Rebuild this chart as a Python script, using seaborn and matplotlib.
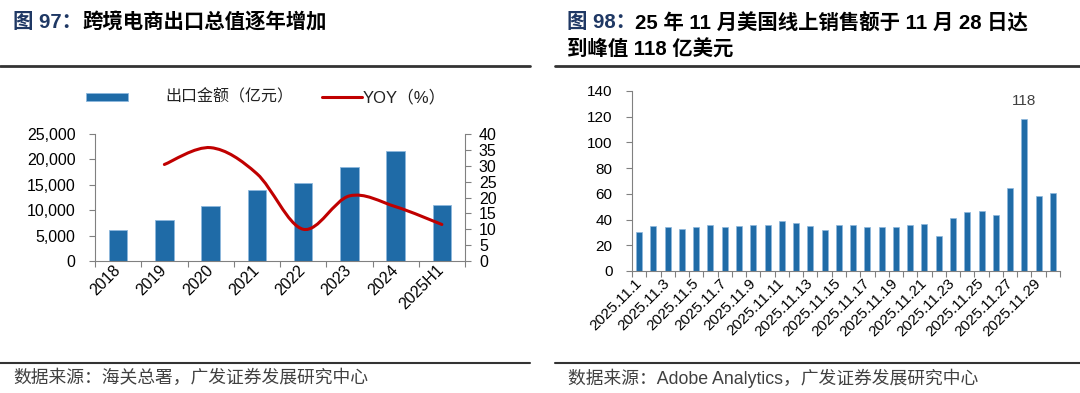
import pandas as pd
import seaborn as sns
import matplotlib.pyplot as plt
from matplotlib.path import Path
from matplotlib.patches import PathPatch, Rectangle
from matplotlib.lines import Line2D
from matplotlib.ticker import FuncFormatter, MultipleLocator, FixedLocator

# 图97 数据
years = ["2018", "2019", "2020", "2021", "2022", "2023", "2024", "2025H1"]
export_value = [6100, 8000, 10850, 13950, 15300, 18450, 21600, 10950]
yoy_years = ["2019", "2020", "2021", "2022", "2023", "2024", "2025H1"]
yoy = [30.4, 35.7, 27.5, 10.0, 20.5, 17.1, 11.5]

# 图98 数据
days = ["2025.11.%d" % d for d in range(1, 31)]
sales = [30.1, 35.3, 34.2, 32.9, 34.5, 35.5, 34.5, 35.0, 35.5, 36.0,
         38.9, 37.3, 35.3, 31.9, 35.5, 35.5, 34.5, 34.5, 34.0, 35.5,
         36.3, 27.5, 41.2, 46.1, 46.9, 43.6, 64.6, 118.0, 58.6, 60.7]
peak_label = "118"

BLUE = "#1F6BA7"
EDGE = "#8DB8DD"
RED = "#C00000"
NAVY = "#1F3864"
AXC = "#808080"

sns.set_style("ticks")
plt.rcParams["font.family"] = ["Liberation Sans", "Noto Sans CJK SC"]
plt.rcParams["axes.edgecolor"] = AXC
plt.rcParams["xtick.color"] = AXC
plt.rcParams["ytick.color"] = AXC
plt.rcParams["xtick.labelcolor"] = "black"
plt.rcParams["ytick.labelcolor"] = "black"

W, H = 1080, 393
fig = plt.figure(figsize=(W / 100, H / 100), dpi=100)


def fx(px):
    return px / W


def fy(py):
    return 1 - py / H


def smooth_line(ax, xs, ys, color, lw, t=1 / 6):
    # bezier curve through the points, like an excel smoothed line
    pts = list(zip(xs, ys))
    verts = [pts[0]]
    codes = [Path.MOVETO]
    n = len(pts)
    for i in range(n - 1):
        p0 = pts[max(i - 1, 0)]
        p1 = pts[i]
        p2 = pts[i + 1]
        p3 = pts[min(i + 2, n - 1)]
        c1 = (p1[0] + (p2[0] - p0[0]) * t, p1[1] + (p2[1] - p0[1]) * t)
        c2 = (p2[0] - (p3[0] - p1[0]) * t, p2[1] - (p3[1] - p1[1]) * t)
        verts += [c1, c2, p2]
        codes += [Path.CURVE4] * 3
    ax.add_patch(PathPatch(Path(verts, codes), facecolor="none",
                           edgecolor=color, lw=lw, capstyle="round", zorder=5))


# ---------- 左图 ----------
ax = fig.add_axes([fx(95), fy(261), fx(465 - 95), (261 - 134) / H])
df1 = pd.DataFrame({"year": years, "value": export_value})
sns.barplot(data=df1, x="year", y="value", ax=ax, color=BLUE, saturation=1,
            width=0.4, edgecolor=EDGE, linewidth=0.6)
ax.set_xlim(-0.5, len(years) - 0.5)
ax.set_ylim(0, 25000)
ax.yaxis.set_major_locator(MultipleLocator(5000))
ax.yaxis.set_major_formatter(FuncFormatter(lambda v, p: f"{v:,.0f}"))
ax.set_xlabel("")
ax.set_ylabel("")
ax.xaxis.set_major_locator(FixedLocator([i - 0.5 for i in range(len(years) + 1)]))
ax.xaxis.set_major_formatter(plt.NullFormatter())
ax.set_xticks(range(len(years)), minor=True)
ax.set_xticklabels(years, minor=True, rotation=45, ha="right", va="center",
                   rotation_mode="anchor", fontsize=11.5)
ax.tick_params(axis="x", which="minor", length=0, pad=5)
ax.tick_params(axis="x", which="major", length=4, direction="out")
ax.tick_params(axis="y", labelsize=11.5, length=4, pad=10)
for s in ["top", "right"]:
    ax.spines[s].set_visible(False)

ax2 = ax.twinx()
ax2.set_ylim(0, 40)
ax2.yaxis.set_major_locator(MultipleLocator(5))
ax2.tick_params(axis="y", labelsize=11.5, length=4, pad=6)
ax2.spines["top"].set_visible(False)
ax2.spines["left"].set_visible(False)
ax2.spines["bottom"].set_visible(False)
yoy_x = [years.index(y) for y in yoy_years]
smooth_line(ax2, yoy_x, yoy, RED, 2.2)

# legend
ly = fy(97)
fig.add_artist(Rectangle((fx(86), ly - 4 / H), fx(42), 8 / H, transform=fig.transFigure,
                         facecolor=BLUE, edgecolor=EDGE, lw=0.6))
fig.text(fx(165), ly, "出口金额（亿元）", fontsize=11.5, va="center", color="#222222")
fig.add_artist(Line2D([fx(322), fx(362)], [ly, ly], transform=fig.transFigure,
                      color=RED, lw=2.2))
fig.text(fx(363), ly, "YOY（%）", fontsize=12, va="center", color="#222222")

# ---------- 右图 ----------
bx = fig.add_axes([fx(632), fy(271), fx(1060 - 632), (271 - 91) / H])
df2 = pd.DataFrame({"day": days, "sales": sales})
sns.barplot(data=df2, x="day", y="sales", ax=bx, color=BLUE, saturation=1,
            width=0.42, edgecolor=EDGE, linewidth=0.5)
bx.set_xlim(-0.5, len(days) - 0.5)
bx.set_ylim(0, 140)
bx.yaxis.set_major_locator(MultipleLocator(20))
bx.set_xlabel("")
bx.set_ylabel("")
bx.xaxis.set_major_locator(FixedLocator([i - 0.5 for i in range(len(days) + 1)]))
bx.xaxis.set_major_formatter(plt.NullFormatter())
lab_idx = list(range(0, len(days), 2))
bx.set_xticks(lab_idx, minor=True)
bx.set_xticklabels([days[i] for i in lab_idx], minor=True, rotation=45, ha="right",
                   va="center", rotation_mode="anchor", fontsize=11)
bx.tick_params(axis="x", which="minor", length=0, pad=7)
bx.tick_params(axis="x", which="major", length=4, direction="out")
bx.tick_params(axis="y", labelsize=11, length=4, pad=10)
for s in ["top", "right"]:
    bx.spines[s].set_visible(False)
pk = sales.index(max(sales))
bx.annotate(peak_label, (pk, sales[pk]), xytext=(0, 8), textcoords="offset points",
            ha="center", va="bottom", fontsize=11, color="#404040")

# ---------- 标题 ----------
tkw = dict(fontsize=14.7, weight="bold", va="center")
fig.text(fx(13), fy(22), "图 97：", color=NAVY, **tkw)
fig.text(fx(82), fy(22), "跨境电商出口总值逐年增加", color="black", **tkw)
fig.text(fx(567), fy(22), "图 98：", color=NAVY, **tkw)
fig.text(fx(635), fy(22), "25 年 11 月美国线上销售额于 11 月 28 日达", color="black", **tkw)
fig.text(fx(567), fy(50), "到峰值 118 亿美元", color="black", **tkw)

# 分隔线
for x0, x1 in [(0, 530), (555, 1080)]:
    fig.add_artist(Line2D([fx(x0), fx(x1)], [fy(66), fy(66)], transform=fig.transFigure,
                          color="#333333", lw=2))
    fig.add_artist(Line2D([fx(x0), fx(x1)], [fy(363), fy(363)], transform=fig.transFigure,
                          color="#333333", lw=1.5))

# 数据来源
fig.text(fx(13), fy(378), "数据来源：海关总署，广发证券发展研究中心", fontsize=12.8,
         va="center", color="#404040")
fig.text(fx(568), fy(378), "数据来源：Adobe Analytics，广发证券发展研究中心", fontsize=12.8,
         va="center", color="#404040")

fig.savefig("out.png", dpi=100)
